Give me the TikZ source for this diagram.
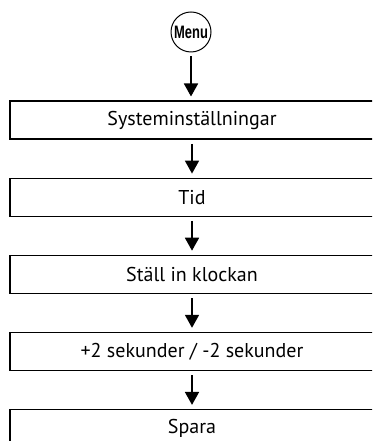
\documentclass[tikz,border=0pt]{standalone}
\usepackage{fontspec}
\setmainfont{PT Sans}
\newfontfamily\menufont{Liberation Sans}
\usepackage{tikz}
\usetikzlibrary{arrows.meta,positioning}

\begin{document}
\begin{tikzpicture}[x=1pt,y=1pt,>={Triangle[width=14pt,length=13pt]},node distance=37.7pt,
  stepbox/.style={draw,line width=1.4pt,minimum width=364pt,minimum height=38pt,inner sep=0pt,font=\fontsize{20}{20}\selectfont},
  menu/.style={draw,circle,line width=1pt,minimum size=40pt,inner sep=0pt,font=\menufont\bfseries\fontsize{18}{18}\selectfont},
  flow/.style={->,line width=1.8pt,shorten >=4pt,shorten <=4pt}]
\clip (0,0) rectangle (372,441);
\node[menu] (menu) at (191,409) {\scalebox{0.72}[1]{Menu}};
\node[stepbox,below=48pt of menu,xshift=1pt] (sys) {Systeminställningar};
\node[stepbox,below=of sys] (tid) {Tid};
\node[stepbox,below=of tid] (klocka) {Ställ in klockan};
\node[stepbox,below=of klocka] (sek) {+2 sekunder / -2 sekunder};
\node[stepbox,below=of sek] (spara) {Spara};
\draw[flow] (menu) -- (menu|-sys.north);
\draw[flow] (sys) -- (tid);
\draw[flow] (tid) -- (klocka);
\draw[flow] (klocka) -- (sek);
\draw[flow] (sek) -- (spara);
\end{tikzpicture}
\end{document}
